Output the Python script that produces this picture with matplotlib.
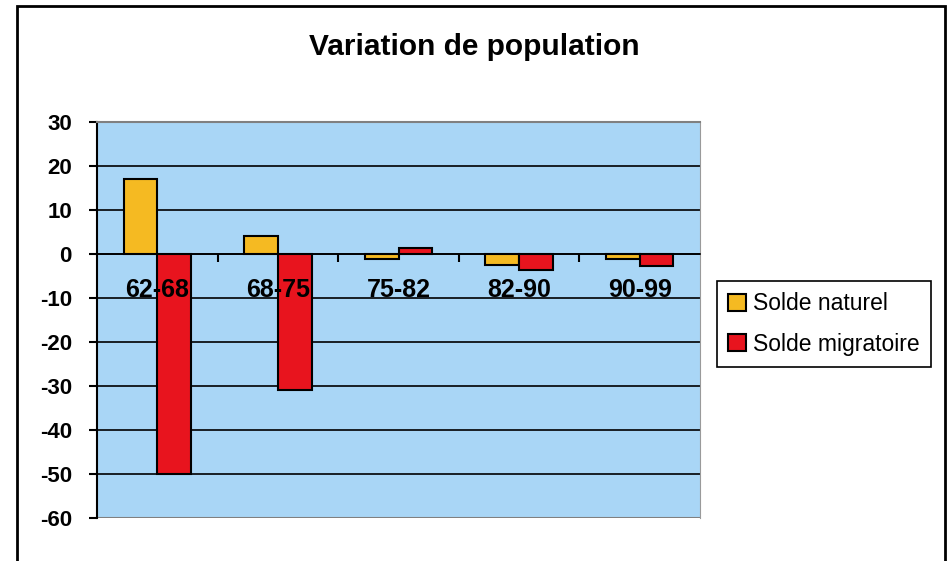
import matplotlib
matplotlib.use("Agg")
import matplotlib.pyplot as plt
import numpy as np
from matplotlib.patches import Rectangle

periods = ["62-68", "68-75", "75-82", "82-90", "90-99"]
solde_naturel = [17, 4.2, -1.2, -2.4, -1.2]
solde_migratoire = [-50, -31, 1.3, -3.7, -2.7]
series_names = ["Solde naturel", "Solde migratoire"]
y_ticks = list(range(-60, 31, 10))

plt.rcParams["font.family"] = ["Liberation Sans", "DejaVu Sans"]

fig = plt.figure(figsize=(9.48, 5.61), dpi=100)
ax = fig.add_axes([97 / 948, 1 - 518 / 561, (700 - 97) / 948, (518 - 122) / 561])
ax.set_facecolor("#A9D6F6")

x = np.arange(len(periods))
w = 0.28
b1 = ax.bar(x - w / 2, solde_naturel, w, color="#F5BA22", edgecolor="black",
            linewidth=1.5, label=series_names[0], zorder=3)
b2 = ax.bar(x + w / 2, solde_migratoire, w, color="#E8141E", edgecolor="black",
            linewidth=1.5, label=series_names[1], zorder=3)

ax.set_xlim(-0.5, len(periods) - 0.5)
ax.set_ylim(-60, 30)
ax.set_yticks(y_ticks)
ax.set_yticklabels([str(v) for v in y_ticks], fontsize=16, fontweight="bold")
# inner gridlines black, plot frame top/bottom grey
for yv in y_ticks[1:-1]:
    ax.axhline(yv, color="black", linewidth=1.2, zorder=1)
ax.axhline(y_ticks[0], color="#808080", linewidth=1.5, zorder=1)

# category axis sits on zero, labels drawn over the bars
ax.spines["bottom"].set_position(("data", 0))
ax.spines["bottom"].set_linewidth(1.2)
ax.spines["top"].set_color("#808080")
ax.spines["top"].set_linewidth(1.5)
ax.spines["right"].set_color("#9a9a9a")
ax.spines["left"].set_linewidth(1.5)
ax.set_xticks(x)
ax.set_xticklabels([])
ax.tick_params(axis="x", which="major", length=0)
ax.set_xticks(np.arange(0.5, len(periods) - 0.5, 1), minor=True)
ax.tick_params(axis="x", which="minor", length=6, width=1.5, direction="out")
ax.tick_params(axis="y", length=6, width=1.5, direction="out", pad=12)
for xi, lab in zip(x, periods):
    ax.text(xi, -8.2, lab, ha="center", va="center", fontsize=18, fontweight="bold",
            zorder=5)

fig.text(0.5, 1 - 47 / 561, "Variation de population", ha="center", va="center",
         fontsize=21.5, fontweight="bold")

leg = fig.legend(handles=[b1, b2], loc="center left", bbox_to_anchor=(717 / 948, 1 - 324 / 561),
                 fontsize=16.5, frameon=True, fancybox=False, edgecolor="black",
                 framealpha=1, handlelength=0.75, handleheight=0.75, handletextpad=0.3,
                 borderpad=0.5, labelspacing=0.75, borderaxespad=0)
leg.get_frame().set_linewidth(1.2)

# outer chart frame (its bottom edge lies below the picture)
fig.patches.append(Rectangle((17 / 948, -0.02), (945 - 17) / 948, 1.02 - 6 / 561,
                             transform=fig.transFigure, fill=False,
                             edgecolor="black", linewidth=2))

fig.savefig("out.png", dpi=100)
